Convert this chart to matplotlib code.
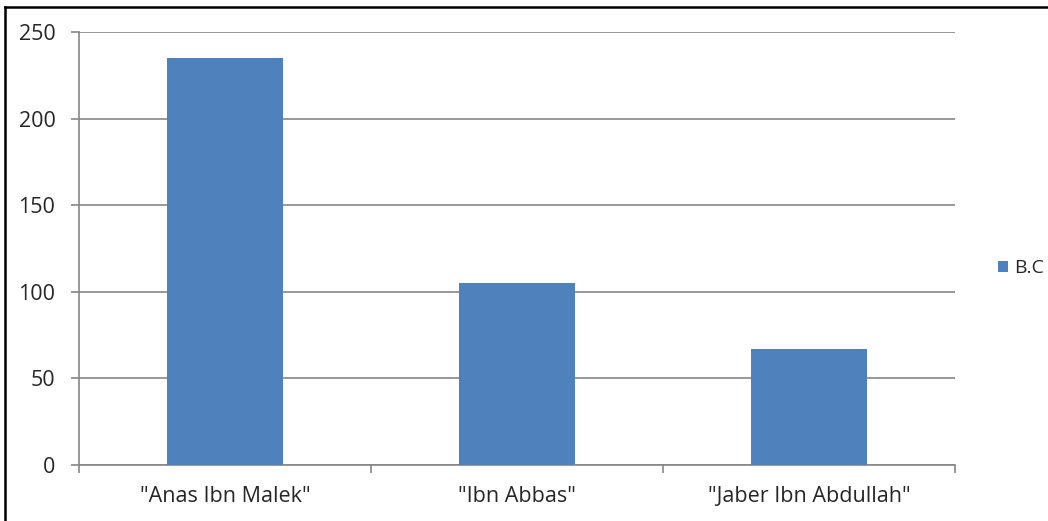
import matplotlib as mpl
import matplotlib.pyplot as plt
from matplotlib.lines import Line2D

# --- Data -----------------------------------------------------------------
CATEGORIES = ['"Anas Ibn Malek"', '"Ibn Abbas"', '"Jaber Ibn Abdullah"']
VALUES = [235, 105, 67]
SERIES_LABEL = "B.C"
Y_TICKS = [0, 50, 100, 150, 200, 250]

BAR_COLOR = "#4F81BD"
GRID_COLOR = "#868686"
TEXT_COLOR = "#262626"

mpl.rcParams.update({
    "font.family": ["Open Sans", "DejaVu Sans"],
    "font.size": 15.5,
})

W, H = 1048, 521
fig = plt.figure(figsize=(W / 100, H / 100), dpi=100)
ax = fig.add_axes([79 / W, (H - 465) / H, (955 - 79) / W, (465 - 32) / H])

xs = list(range(len(CATEGORIES)))
ax.bar(xs, VALUES, width=0.4, color=BAR_COLOR, zorder=3, label=SERIES_LABEL)

ax.set_xlim(-0.5, len(CATEGORIES) - 0.5)
ax.set_ylim(0, 250)
ax.set_yticks(Y_TICKS)
ax.yaxis.grid(True, color=GRID_COLOR, linewidth=1.2, zorder=0)
ax.set_axisbelow(True)

# category labels centred, tick marks on category boundaries
ax.set_xticks(xs)
ax.set_xticklabels(CATEGORIES, color=TEXT_COLOR)
ax.tick_params(axis="x", length=0, pad=15)
ax.set_xticks([x - 0.5 for x in range(len(CATEGORIES) + 1)], minor=True)
ax.tick_params(axis="x", which="minor", length=6, direction="out",
               color=GRID_COLOR, width=1.2)
ax.tick_params(axis="y", length=6, direction="out", color=GRID_COLOR,
               width=1.2, pad=11, labelcolor=TEXT_COLOR)

for side in ("top", "right"):
    ax.spines[side].set_visible(False)
for side in ("left", "bottom"):
    ax.spines[side].set_color(GRID_COLOR)
    ax.spines[side].set_linewidth(1.2)

ax.legend(loc="center left", bbox_to_anchor=(1.04, 0.455), frameon=False,
          handlelength=0.5, handleheight=0.5, handletextpad=0.35,
          fontsize=14, labelcolor=TEXT_COLOR, borderaxespad=0)

# outer chart border: only top and left edges are visible in the source
fig.add_artist(Line2D([5 / W, 1], [1 - 7 / H, 1 - 7 / H],
                      transform=fig.transFigure, color="black", linewidth=1.8))
fig.add_artist(Line2D([5 / W, 5 / W], [0, 1 - 7 / H],
                      transform=fig.transFigure, color="black", linewidth=1.8))

fig.savefig("out.png", dpi=100)
